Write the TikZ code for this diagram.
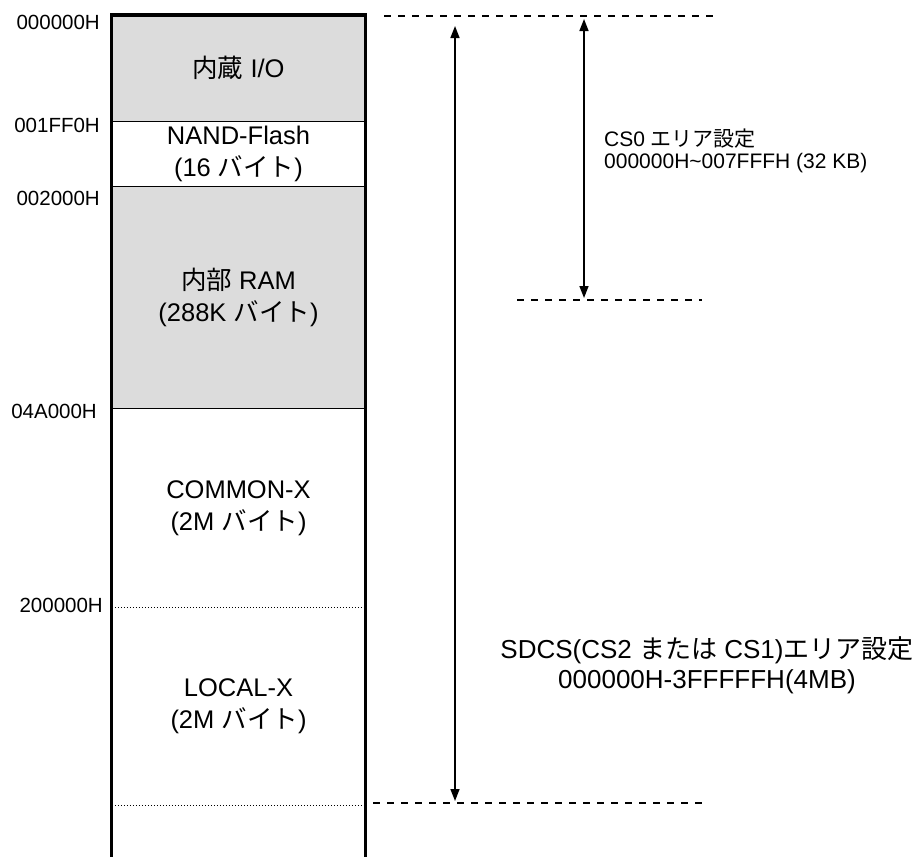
\documentclass[tikz,border=0pt]{standalone}
\usepackage{fontspec}
\setmainfont{Liberation Sans}
\newfontfamily\jpfont{Noto Sans CJK JP}
\newcommand{\ja}[1]{{\jpfont #1}}
\usetikzlibrary{arrows.meta, positioning}
\definecolor{memgray}{RGB}{220,220,220}
\definecolor{mydark}{RGB}{0,0,0}
\tikzset{
  region/.style={rectangle, minimum width=253pt, inner sep=0pt,
    align=center, font=\fontsize{25.5}{32}\selectfont},
  addr/.style={anchor=east, inner sep=0pt, font=\fontsize{20.5}{24}\selectfont},
  note/.style={inner sep=0pt, align=left, font=\fontsize{21}{21.5}\selectfont},
  bignote/.style={inner sep=0pt, align=center, font=\fontsize{26}{30}\selectfont},
  border/.style={line width=3.2pt, color=mydark},
  sepline/.style={line width=1.3pt, color=mydark},
  dotline/.style={line width=1pt, dash pattern=on 1pt off 2pt, color=mydark},
  guide/.style={line width=1.4pt, dash pattern=on 7pt off 7pt, color=mydark},
  dimarrow/.style={{Triangle[length=12pt,width=9pt]}-{Triangle[length=12pt,width=9pt]},
    line width=1.6pt, color=mydark}
}
\begin{document}
\begin{tikzpicture}[x=1pt, y=-1pt]
  \useasboundingbox (0,0) rectangle (922,857);
  % memory regions
  \node[region, fill=memgray, minimum height=106pt, anchor=north] (io) at (238.5,15) {\ja{内蔵} I/O};
  \node[region, minimum height=65pt, below=0pt of io] (nand) {NAND-Flash\\(16 \ja{バイト})};
  \node[region, fill=memgray, minimum height=221pt, below=0pt of nand] (ram) {\ja{内部} RAM\\(288K \ja{バイト})};
  \node[region, minimum height=199pt, below=0pt of ram] (common) {COMMON-X\\(2M \ja{バイト})};
  \node[region, minimum height=197pt, below=0pt of common] (local) {LOCAL-X\\(2M \ja{バイト})};
  \coordinate (mapend) at (238.5,857);
  \draw[sepline] (io.south west) -- (io.south east);
  \draw[sepline] (nand.south west) -- (nand.south east);
  \draw[sepline] (ram.south west) -- (ram.south east);
  \draw[dotline] (common.south west) -- (common.south east);
  \draw[dotline] (local.south west) -- (local.south east);
  \draw[border] (io.north west |- mapend) -- (io.north west) -- (io.north east) -- (io.north east |- mapend);
  % addresses
  \node[addr] (a0) at (100,22) {000000H};
  \node[addr] (a1) at (100,125) {001FF0H};
  \node[addr] (a2) at (100,198) {002000H};
  \node[addr] (a3) at (97,411) {04A000H};
  \node[addr] (a4) at (103,605.5) {200000H};
  % area guides
  \coordinate (g0a) at (384,16);  \coordinate (g0b) at (713,16);
  \coordinate (g1a) at (517,300); \coordinate (g1b) at (702,300);
  \coordinate (g2a) at (373,803); \coordinate (g2b) at (705,803);
  \draw[guide] (g0a) -- (g0b);
  \draw[guide] (g1a) -- (g1b);
  \draw[guide] (g2a) -- (g2b);
  \coordinate (sdtop) at (455,26);  \coordinate (sdbot) at (455,801);
  \coordinate (cstop) at (584,19);  \coordinate (csbot) at (584,298);
  \draw[dimarrow] (sdtop) -- (sdbot);
  \draw[dimarrow] (cstop) -- (csbot);
  \node[note, anchor=west] (cs0) at (604,151) {CS0 \ja{エリア設定}\\000000H\textasciitilde 007FFFH (32 KB)};
  \node[bignote] (sdcs) at (707,665) {SDCS(CS2 \ja{または} CS1)\ja{エリア設定}\\000000H-3FFFFFH(4MB)};
\end{tikzpicture}
\end{document}
